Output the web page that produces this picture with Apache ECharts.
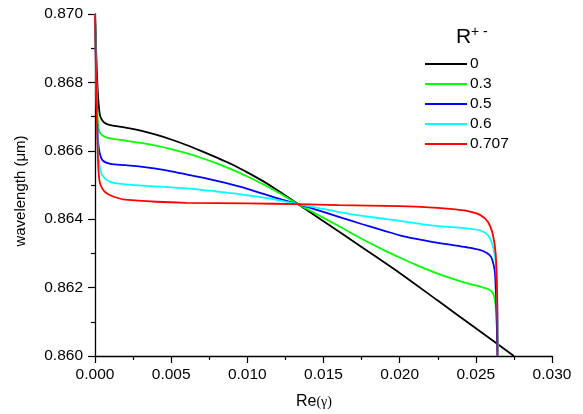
<!DOCTYPE html>
<html>
<head>
<meta charset="utf-8">
<script src="https://cdn.jsdelivr.net/npm/echarts@6/dist/echarts.min.js"></script>
<style>
html,body{margin:0;padding:0;background:#fff;}
#chart{width:583px;height:414px;}
</style>
</head>
<body>
<div id="chart"></div>
<script>
const seriesNames = ['0', '0.3', '0.5', '0.6', '0.707'];
const seriesColors = ['#000000', '#00ff00', '#0000ff', '#00ffff', '#ff0000'];

const r0 = [[0,0.8700],[0.00005,0.8693],[0.0001,0.8686],[0.00015,0.8680],[0.0002,0.8676],[0.0003,0.8671],[0.0004,0.86695],[0.0006,0.86683],[0.001,0.86675],[0.002,0.86668],[0.003,0.86659],[0.004,0.86647],[0.005,0.86633],[0.006,0.86617],[0.007,0.86599],[0.008,0.86580],[0.009,0.86560],[0.010,0.86537],[0.011,0.86512],[0.012,0.86484],[0.01334,0.86444],[0.015,0.86394],[0.0175,0.86319],[0.020,0.86243],[0.0225,0.86162],[0.025,0.86081],[0.0275,0.8600]];
const r03 = [[0,0.8700],[0.00005,0.8690],[0.0001,0.8680],[0.00015,0.8672],[0.0002,0.8668],[0.0003,0.86655],[0.0005,0.86645],[0.001,0.86636],[0.002,0.86630],[0.003,0.86623],[0.004,0.86615],[0.005,0.86605],[0.006,0.86593],[0.007,0.86579],[0.008,0.86563],[0.009,0.86545],[0.010,0.86525],[0.011,0.86503],[0.012,0.86479],[0.01334,0.86444],[0.0145,0.86416],[0.016,0.86380],[0.0175,0.86343],[0.019,0.86309],[0.020,0.86288],[0.021,0.86268],[0.0222,0.86246],[0.0234,0.86227],[0.0244,0.86213],[0.0252,0.86204],[0.0258,0.86196],[0.0261,0.86186],[0.02625,0.86165],[0.02635,0.86120],[0.0264,0.8605],[0.02643,0.8600]];
const r05 = [[0,0.8700],[0.00005,0.8688],[0.0001,0.8677],[0.00015,0.8668],[0.0002,0.8663],[0.0003,0.86595],[0.0005,0.86572],[0.001,0.86562],[0.002,0.86558],[0.003,0.86554],[0.004,0.86548],[0.005,0.86540],[0.006,0.86531],[0.007,0.86522],[0.008,0.86512],[0.009,0.86501],[0.010,0.86489],[0.011,0.86475],[0.012,0.86461],[0.01334,0.86444],[0.0145,0.86428],[0.016,0.86407],[0.0175,0.86386],[0.019,0.86366],[0.020,0.86353],[0.021,0.86343],[0.0222,0.86333],[0.0234,0.86325],[0.0244,0.86318],[0.0252,0.86311],[0.0257,0.86302],[0.026,0.86290],[0.0262,0.86260],[0.02627,0.86235],[0.02636,0.86125],[0.02642,0.8600]];
const r06 = [[0,0.8700],[0.00005,0.8688],[0.0001,0.8676],[0.00015,0.8667],[0.0002,0.8660],[0.0003,0.86555],[0.0005,0.86527],[0.001,0.86509],[0.002,0.86502],[0.004,0.86496],[0.006,0.86490],[0.007,0.86486],[0.008,0.86481],[0.009,0.86476],[0.010,0.86470],[0.011,0.86464],[0.012,0.86456],[0.01334,0.86444],[0.016,0.86421],[0.0183,0.86405],[0.020,0.86395],[0.0222,0.86381],[0.0244,0.86373],[0.0253,0.86367],[0.0258,0.86353],[0.0261,0.86324],[0.0263,0.86280],[0.02636,0.86241],[0.02642,0.86125],[0.02647,0.8600]];
const r0707 = [[0,0.8700],[0.00005,0.8687],[0.0001,0.8674],[0.00015,0.8664],[0.0002,0.8657],[0.0003,0.86510],[0.0005,0.86488],[0.0007,0.86478],[0.001,0.86470],[0.0015,0.86462],[0.002,0.86457],[0.004,0.86451],[0.006,0.86448],[0.010,0.86446],[0.01334,0.86444],[0.016,0.86441],[0.020,0.86438],[0.0222,0.86434],[0.0233,0.86430],[0.0244,0.86424],[0.0253,0.86412],[0.0258,0.86392],[0.0261,0.86358],[0.0263,0.86300],[0.0264,0.86173],[0.02643,0.8600]];
const seriesData = [r0, r03, r05, r06, r0707];

const xMin = 0, xMax = 0.03, xStep = 0.005;
const yMin = 0.860, yMax = 0.870, yStep = 0.002;
const xTitle = 'Re';
const xTitleSym = '(γ)';
const yTitle = 'wavelength (μm)';
const legendTitle = 'R';
const legendTitleSup = '+ -';

const chart = echarts.init(document.getElementById('chart'), null, {renderer: 'canvas'});
const font = 'Liberation Sans, Arial, sans-serif';

const axisCommon = {
  axisLine: {show: true, onZero: false, lineStyle: {color: '#000', width: 1.3}},
  axisTick: {show: true, inside: false, length: 7, lineStyle: {color: '#000', width: 1.2}},
  minorTick: {show: true, splitNumber: 2, length: 4, lineStyle: {color: '#000', width: 1.2}},
  splitLine: {show: false},
  minorSplitLine: {show: false}
};

chart.setOption({
  animation: false,
  backgroundColor: '#fff',
  grid: {left: 95, right: 31, top: 14, bottom: 58, containLabel: false},
  legend: {
    data: seriesNames,
    orient: 'vertical',
    left: 425,
    top: 56,
    padding: 0,
    icon: 'rect',
    itemWidth: 42,
    itemHeight: 2,
    itemGap: 4,
    textStyle: {fontFamily: font, fontSize: 15.5, color: '#000', lineHeight: 16, padding: [0, 0, 0, -2]}
  },
  graphic: [
    {type: 'text', x: 456, y: 27, style: {text: legendTitle, font: '21px ' + font, fill: '#000', textVerticalAlign: 'top'}},
    {type: 'text', x: 471, y: 25, style: {text: legendTitleSup, font: '14px ' + font, fill: '#000', textVerticalAlign: 'top'}},
    {type: 'text', x: 21, y: 191, rotation: Math.PI / 2,
      style: {text: yTitle, font: '15px ' + font, fill: '#000', textAlign: 'center', textVerticalAlign: 'middle'}},
    {type: 'text', x: 296, y: 402,
      style: {
        text: '{a|' + xTitle + '}{b|' + xTitleSym + '}',
        textVerticalAlign: 'middle',
        rich: {
          a: {fontFamily: font, fontSize: 16, fill: '#000'},
          b: {fontFamily: 'Liberation Serif, Times New Roman, serif', fontSize: 14, fill: '#000'}
        }
      }}
  ],
  xAxis: Object.assign({
    type: 'value',
    min: xMin, max: xMax, interval: xStep,
    axisLabel: {fontFamily: font, fontSize: 15.5, color: '#000', margin: 11,
      formatter: v => v.toFixed(3)}
  }, axisCommon),
  yAxis: Object.assign({
    type: 'value',
    min: yMin, max: yMax, interval: yStep,
    axisLabel: {fontFamily: font, fontSize: 15.5, color: '#000', margin: 12,
      formatter: v => v.toFixed(3)}
  }, axisCommon),
  series: seriesNames.map((n, i) => ({
    name: n,
    type: 'line',
    data: seriesData[i],
    showSymbol: false,
    symbol: 'none',
    smooth: 0.3,
    clip: true,
    color: seriesColors[i],
    lineStyle: {color: seriesColors[i], width: 1.8}
  }))
});
</script>
</body>
</html>
